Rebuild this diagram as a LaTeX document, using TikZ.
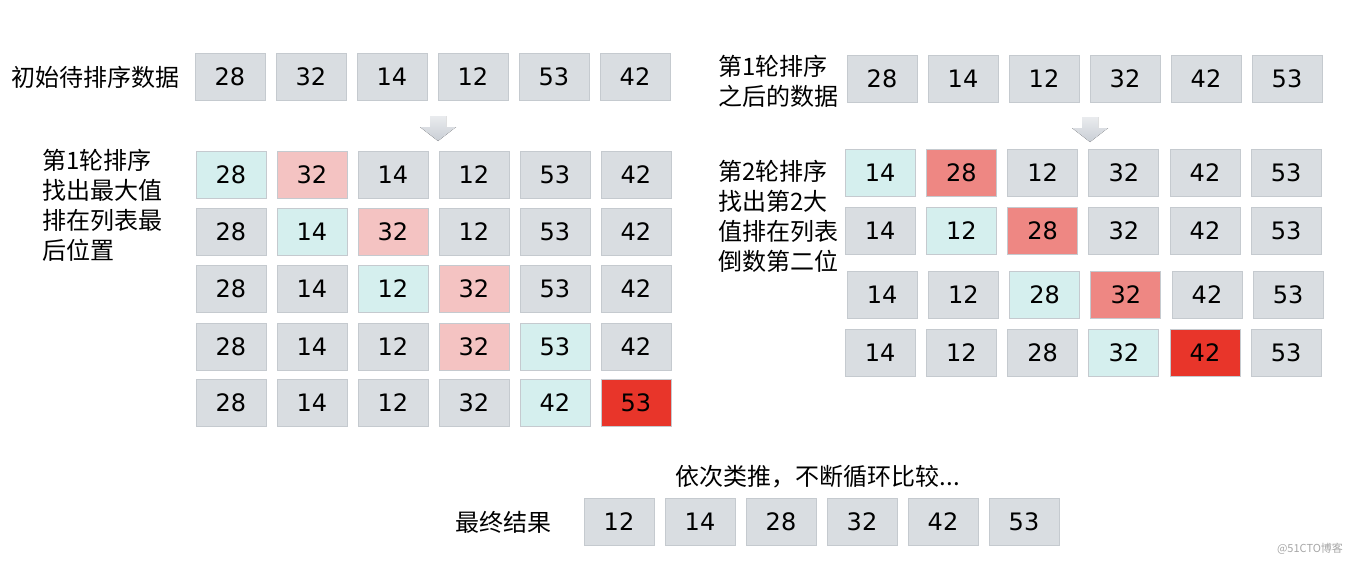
\documentclass[tikz,border=0pt]{standalone}
\usepackage{fontspec}
\newfontfamily\cjk{Noto Sans CJK SC}
\newfontfamily\numfont{DejaVu Sans}
\usetikzlibrary{calc}

\definecolor{grayc}{HTML}{D9DDE1}
\definecolor{edgec}{HTML}{C5CACF}
\definecolor{cyanc}{HTML}{D5EFEE}
\definecolor{pinkc}{HTML}{F4C3C2}
\definecolor{rosec}{HTML}{EE8783}
\definecolor{redc}{HTML}{E8352A}
\definecolor{arrowc}{HTML}{C9CED5}

\tikzset{
  cell/.style={draw=edgec, line width=1pt, fill=grayc, minimum width=70pt, minimum height=47pt,
    inner sep=0pt, font=\numfont\fontsize{24}{26}\selectfont},
  lbl/.style={font=\cjk\fontsize{24}{30}\selectfont, inner sep=0pt, align=left},
  downarrow/.style={top color=arrowc!40, bottom color=arrowc, draw=none}
}

\begin{document}
\begin{tikzpicture}[x=1pt, y=-1pt]
	\useasboundingbox (0,0) rectangle (1361,581);

% initial data and first pass
\node[lbl, anchor=west] (start) at (11,77) {初始待排序数据};
\foreach \v [count=\i] in {28,32,14,12,53,42}
	\node[cell] (s\i) at ({149+81*\i},77) {\v};

\node[lbl, anchor=north west] (pass1) at (42,149) {第1轮排序\\找出最大值\\排在列表最\\后位置};
\foreach \v/\c [count=\i] in {28/cyanc,32/pinkc,14/grayc,12/grayc,53/grayc,42/grayc}
	\node[cell, fill=\c] (a\i) at ({150+81*\i},175) {\v};
\foreach \v/\c [count=\i] in {28/grayc,14/cyanc,32/pinkc,12/grayc,53/grayc,42/grayc}
	\node[cell, fill=\c] (b\i) at ({150+81*\i},232) {\v};
\foreach \v/\c [count=\i] in {28/grayc,14/grayc,12/cyanc,32/pinkc,53/grayc,42/grayc}
	\node[cell, fill=\c] (c\i) at ({150+81*\i},289) {\v};
\foreach \v/\c [count=\i] in {28/grayc,14/grayc,12/grayc,32/pinkc,53/cyanc,42/grayc}
	\node[cell, fill=\c] (d\i) at ({150+81*\i},347) {\v};
\foreach \v/\c [count=\i] in {28/grayc,14/grayc,12/grayc,32/grayc,42/cyanc,53/redc}
	\node[cell, fill=\c] (e\i) at ({150+81*\i},403) {\v};

% after first pass and second pass
\node[lbl, anchor=north west] (after1) at (718,55) {第1轮排序\\之后的数据};
\foreach \v [count=\i] in {28,14,12,32,42,53}
	\node[cell] (t\i) at ({801+81*\i},79) {\v};

\node[lbl, anchor=north west] (pass2) at (718,160) {第2轮排序\\找出第2大\\值排在列表\\倒数第二位};
\foreach \v/\c [count=\i] in {14/cyanc,28/rosec,12/grayc,32/grayc,42/grayc,53/grayc}
	\node[cell, fill=\c] (f\i) at ({799+81.2*\i},173) {\v};
\foreach \v/\c [count=\i] in {14/grayc,12/cyanc,28/rosec,32/grayc,42/grayc,53/grayc}
	\node[cell, fill=\c] (g\i) at ({799+81.2*\i},231) {\v};
\foreach \v/\c [count=\i] in {14/grayc,12/grayc,28/cyanc,32/rosec,42/grayc,53/grayc}
	\node[cell, fill=\c] (h\i) at ({801+81.2*\i},295) {\v};
\foreach \v/\c [count=\i] in {14/grayc,12/grayc,28/grayc,32/cyanc,42/redc,53/grayc}
	\node[cell, fill=\c] (k\i) at ({799+81.2*\i},353) {\v};

% down arrows
\fill[downarrow] (430,116) -- (446,116) -- (446,127) -- (456,127) -- (438,141) -- (420,127) -- (430,127) -- cycle;
\fill[downarrow] (1082,117) -- (1098,117) -- (1098,128) -- (1108,128) -- (1090,142) -- (1072,128) -- (1082,128) -- cycle;

% final result
\node[lbl] (etc) at (818,477) {依次类推，不断循环比较...};
\node[lbl] (final) at (503,522) {最终结果};
\foreach \v [count=\i] in {12,14,28,32,42,53}
	\node[cell] (r\i) at ({538+81*\i},522) {\v};

\node[font=\cjk\fontsize{11}{12}\selectfont, text=gray!70, inner sep=0pt] (mark) at (1310,549) {@51CTO博客};

\end{tikzpicture}
\end{document}
